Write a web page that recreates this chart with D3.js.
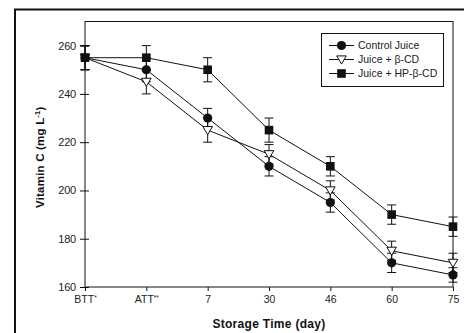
<!DOCTYPE html>
<html>
<head>
<meta charset="utf-8">
<script src="https://cdn.jsdelivr.net/npm/d3@7"></script>
<style>
  html, body { margin: 0; padding: 0; background: #fff; }
  svg { display: block; font-family: "Liberation Sans", Arial, sans-serif; }
</style>
</head>
<body>
<svg id="chart" width="464" height="333"></svg>
<script>
// Storage time categories (tick labels; * marks are drawn as superscripts)
const categories = ["BTT", "ATT", "7", "30", "46", "60", "75"];
const categorySup = ["*", "**", "", "", "", "", ""];

// Vitamin C (mg L-1) per treatment
const controlJuice = [255, 250, 230, 210, 195, 170, 165];
const juiceBCD     = [255, 245, 225, 215, 200, 175, 170];
const juiceHPBCD   = [255, 255, 250, 225, 210, 190, 185];

// Error bar half-widths
const controlErr = [5, 5, 4, 4, 4, 4, 3];
const bcdErr     = [5, 5, 5, 4, 4, 4, 4];
const hpbcdErr   = [5, 5, 5, 5, 4, 4, 4];

const yTicks = [160, 180, 200, 220, 240, 260];

const seriesNames = ["Control Juice", "Juice + \u03B2-CD", "Juice + HP-\u03B2-CD"];
const seriesMarkers = ["circle", "triangle", "square"];

const series = [
  { name: seriesNames[0], values: controlJuice, err: controlErr, marker: seriesMarkers[0] },
  { name: seriesNames[1], values: juiceBCD, err: bcdErr, marker: seriesMarkers[1] },
  { name: seriesNames[2], values: juiceHPBCD, err: hpbcdErr, marker: seriesMarkers[2] }
];

const svg = d3.select("#chart");
const ink = "#111";

// outer frame (runs off the right and bottom edges)
svg.append("path")
  .attr("d", "M15,340 L15,9.5 L470,9.5")
  .attr("fill", "none").attr("stroke", ink).attr("stroke-width", 2);

const plotLeft = 85, plotRight = 453, plotTop = 21.5, plotBottom = 287;

const x = d3.scalePoint().domain(categories).range([plotLeft, plotRight]).padding(0);
const y = d3.scaleLinear().domain([160, 270]).range([plotBottom, plotTop]);

// plot box
svg.append("rect")
  .attr("x", plotLeft).attr("y", plotTop)
  .attr("width", plotRight - plotLeft).attr("height", plotBottom - plotTop)
  .attr("fill", "none").attr("stroke", ink).attr("stroke-width", 1);

// y axis
const yAxis = svg.append("g").attr("transform", `translate(${plotLeft},0)`)
  .call(d3.axisLeft(y).tickValues(yTicks).tickSize(5).tickSizeOuter(0).tickPadding(4));
yAxis.select(".domain").remove();
yAxis.selectAll(".tick line").attr("x1", -5).attr("x2", 4).attr("stroke", ink);
yAxis.selectAll(".tick text").attr("font-size", 11).attr("fill", "#222")
  .attr("font-family", "Liberation Sans, Arial, sans-serif").attr("letter-spacing", "-0.2");

// x axis
const xAxis = svg.append("g").attr("transform", `translate(0,${plotBottom})`)
  .call(d3.axisBottom(x).tickSize(4).tickSizeOuter(0).tickPadding(5));
xAxis.select(".domain").remove();
xAxis.selectAll(".tick line").attr("stroke", ink);
xAxis.selectAll(".tick text").attr("font-size", 10.5).attr("fill", "#222")
  .attr("font-family", "Liberation Sans, Arial, sans-serif")
  .each(function(d, i) {
    const t = d3.select(this);
    if (categorySup[i]) {
      t.append("tspan").attr("font-size", 6.5).attr("dy", -3).text(categorySup[i]);
    }
  });

// axis titles
svg.append("text")
  .attr("x", (plotLeft + plotRight) / 2).attr("y", 328)
  .attr("text-anchor", "middle").attr("font-size", 12).attr("font-weight", "bold")
  .attr("fill", "#111").attr("letter-spacing", "0.3")
  .text("Storage Time (day)");

const yt = svg.append("text")
  .attr("transform", `translate(44,${(plotTop + plotBottom) / 2 + 3}) rotate(-90)`)
  .attr("text-anchor", "middle").attr("font-size", 11.5).attr("font-weight", "bold")
  .attr("fill", "#111").attr("letter-spacing", "0.2");
yt.append("tspan").text("Vitamin C (mg L");
yt.append("tspan").attr("font-size", 7.5).attr("dy", -4).text("-1");
yt.append("tspan").attr("dy", 4).text(")");

const line = d3.line().x((d, i) => x(categories[i])).y(d => y(d));

function drawMarker(g, type, cx, cy) {
  if (type === "circle") {
    g.append("circle").attr("cx", cx).attr("cy", cy).attr("r", 4.6).attr("fill", ink);
  } else if (type === "square") {
    g.append("rect").attr("x", cx - 4.3).attr("y", cy - 4.3).attr("width", 8.6).attr("height", 8.6).attr("fill", ink);
  } else {
    const s = 4.8;
    g.append("path")
      .attr("d", `M${cx - s},${cy - s * 0.75} L${cx + s},${cy - s * 0.75} L${cx},${cy + s * 0.95} Z`)
      .attr("fill", "#fff").attr("stroke", ink).attr("stroke-width", 1);
  }
}

// lines, error bars, markers
series.forEach(s => {
  const g = svg.append("g");
  g.append("path").datum(s.values).attr("d", line)
    .attr("fill", "none").attr("stroke", ink).attr("stroke-width", 1);
  s.values.forEach((v, i) => {
    const cx = x(categories[i]);
    const e = s.err[i];
    const eg = g.append("g").attr("stroke", ink).attr("stroke-width", 1);
    eg.append("line").attr("x1", cx).attr("x2", cx).attr("y1", y(v + e)).attr("y2", y(v - e));
    eg.append("line").attr("x1", cx - 4.5).attr("x2", cx + 4.5).attr("y1", y(v + e)).attr("y2", y(v + e));
    eg.append("line").attr("x1", cx - 4.5).attr("x2", cx + 4.5).attr("y1", y(v - e)).attr("y2", y(v - e));
  });
});
series.forEach(s => {
  const g = svg.append("g");
  s.values.forEach((v, i) => drawMarker(g, s.marker, x(categories[i]), y(v)));
});

// legend
const lg = svg.append("g");
lg.append("rect").attr("x", 321.5).attr("y", 33.5).attr("width", 122).attr("height", 53)
  .attr("fill", "#fff").attr("stroke", ink).attr("stroke-width", 1);
series.forEach((s, i) => {
  const ly = 45.5 + i * 14;
  lg.append("line").attr("x1", 329).attr("x2", 354).attr("y1", ly).attr("y2", ly)
    .attr("stroke", ink).attr("stroke-width", 1);
  drawMarker(lg, s.marker, 341.5, ly);
  lg.append("text").attr("x", 358).attr("y", ly + 3.7)
    .attr("font-size", 10.5).attr("fill", "#222")
    .text(s.name);
});
</script>
</body>
</html>
